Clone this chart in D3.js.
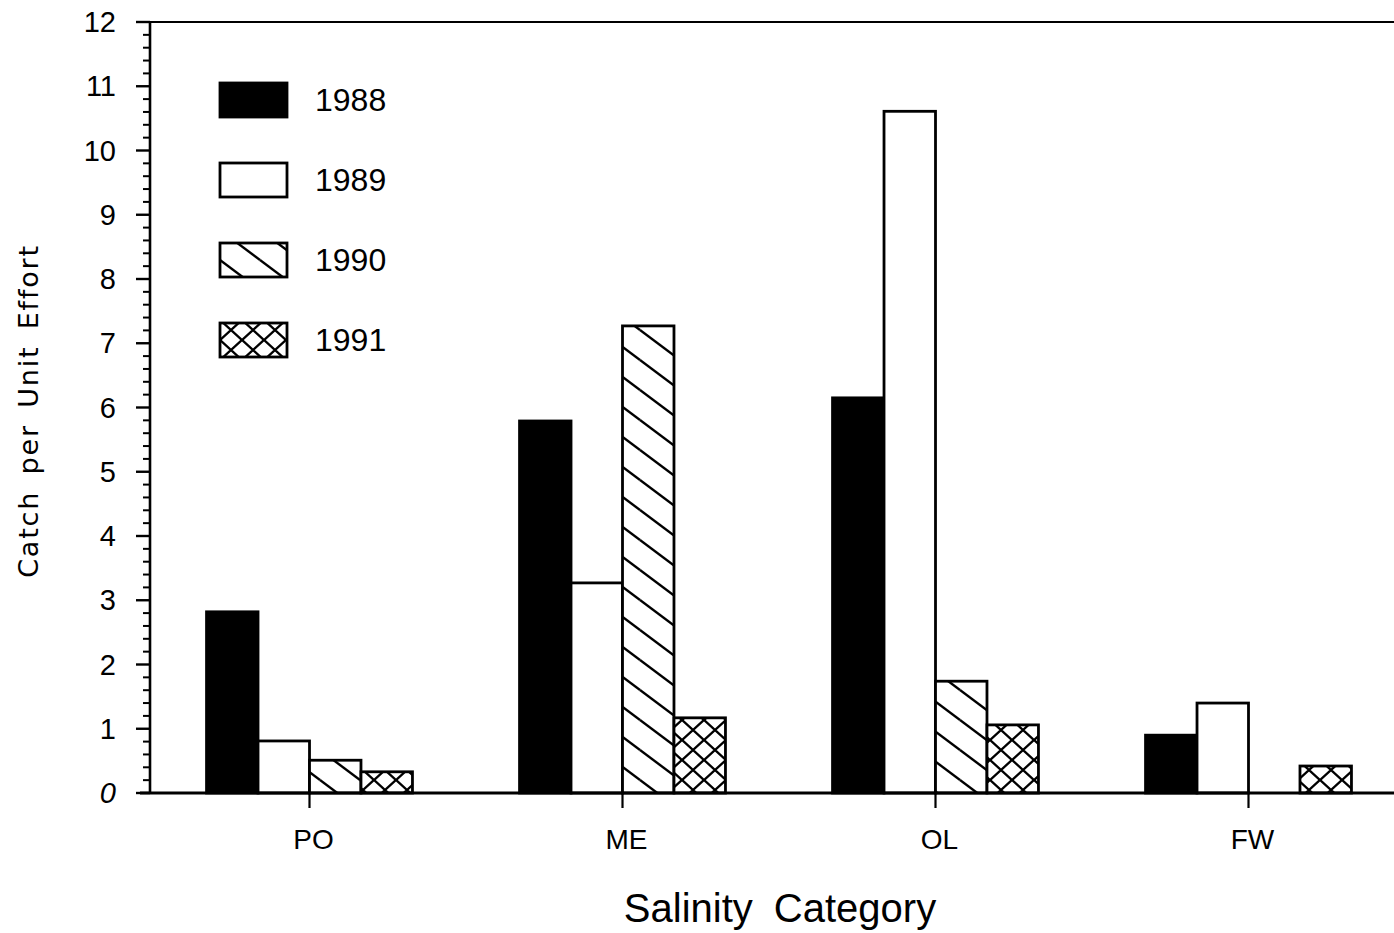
<!DOCTYPE html>
<html>
<head>
<meta charset="utf-8">
<script src="https://cdn.jsdelivr.net/npm/d3@7"></script>
<style>
  body { margin: 0; background: #fff; }
  text { font-family: "Liberation Sans", Arial, sans-serif; fill: #000; }
</style>
</head>
<body>
<svg id="chart" width="1394" height="933"></svg>
<script>
// data
const categories = ["PO", "ME", "OL", "FW"];
const years = ["1988", "1989", "1990", "1991"];
const cpue1988 = [2.82, 5.79, 6.15, 0.90];
const cpue1989 = [0.81, 3.27, 10.61, 1.40];
const cpue1990 = [0.51, 7.27, 1.74, 0];
const cpue1991 = [0.33, 1.17, 1.06, 0.42];
const yTicks = [0, 1, 2, 3, 4, 5, 6, 7, 8, 9, 10, 11, 12];

const series = [cpue1988, cpue1989, cpue1990, cpue1991];
const rows = [];
categories.forEach((c, i) => {
  years.forEach((yr, j) => rows.push({ cat: c, year: yr, value: series[j][i] }));
});

const svg = d3.select("#chart");
const axisX = 150, plotTop = 22, base = 793;

const y = d3.scaleLinear().domain([0, 12]).range([base, plotTop]);
const x0 = d3.scaleBand().domain(categories).range([153, 1405]);
const x1 = d3.scaleBand().domain(years).range([0, x0.bandwidth()]).paddingOuter(1.04);

// patterns
const defs = svg.append("defs");
const diag = defs.append("pattern")
  .attr("id", "diag").attr("patternUnits", "userSpaceOnUse")
  .attr("width", 40).attr("height", 30);
diag.append("rect").attr("width", 40).attr("height", 30).attr("fill", "#fff");
// "\" direction lines, one period 40 wide / 30 tall
[[-40, -30], [0, 0], [40, 30], [-40, 0], [0, -30], [40, 0], [0, 30], [-40, 30], [40, -30]].forEach(([dx, dy]) => {
  diag.append("line")
    .attr("x1", dx).attr("y1", dy).attr("x2", dx + 40).attr("y2", dy + 30)
    .attr("stroke", "#000").attr("stroke-width", 2.4);
});

const cross = defs.append("pattern")
  .attr("id", "cross").attr("patternUnits", "userSpaceOnUse")
  .attr("width", 22).attr("height", 20);
cross.append("rect").attr("width", 22).attr("height", 20).attr("fill", "#fff");
cross.append("path")
  .attr("d", "M0,0L22,20M22,0L0,20M-11,10L0,20M-11,10L0,0M22,0L33,10M22,20L33,10")
  .attr("stroke", "#000").attr("stroke-width", 2.4).attr("fill", "none");

const fills = { "1988": "#000", "1989": "#fff", "1990": "url(#diag)", "1991": "url(#cross)" };

// top frame line
svg.append("line")
  .attr("x1", axisX).attr("x2", 1394).attr("y1", plotTop).attr("y2", plotTop)
  .attr("stroke", "#000").attr("stroke-width", 2.2);

// bars
svg.append("g").selectAll("rect")
  .data(rows.filter(d => d.value > 0))
  .join("rect")
  .attr("x", d => x0(d.cat) + x1(d.year))
  .attr("width", x1.bandwidth())
  .attr("y", d => y(d.value))
  .attr("height", d => y(0) - y(d.value))
  .attr("fill", d => fills[d.year])
  .attr("stroke", "#000")
  .attr("stroke-width", 2.8);

// baseline
svg.append("line")
  .attr("x1", 140).attr("x2", 1394).attr("y1", base).attr("y2", base)
  .attr("stroke", "#000").attr("stroke-width", 2.8);

// y axis with major and minor ticks
const yAxisG = svg.append("g").attr("transform", `translate(${axisX},0)`);
yAxisG.append("line").attr("y1", plotTop).attr("y2", base).attr("stroke", "#000").attr("stroke-width", 2.6);
const minor = d3.range(0, 12.001, 0.2).filter(v => Math.abs(v - Math.round(v)) > 0.01);
yAxisG.selectAll(".minor").data(minor).join("line")
  .attr("class", "minor")
  .attr("x1", -7).attr("x2", 0)
  .attr("y1", d => y(d)).attr("y2", d => y(d))
  .attr("stroke", "#000").attr("stroke-width", 2);
yAxisG.selectAll(".major").data(yTicks).join("line")
  .attr("class", "major")
  .attr("x1", -14).attr("x2", 0)
  .attr("y1", d => y(d)).attr("y2", d => y(d))
  .attr("stroke", "#000").attr("stroke-width", 2.4);
yAxisG.selectAll("text").data(yTicks).join("text")
  .attr("x", -34).attr("y", d => y(d) + 10)
  .attr("text-anchor", "end")
  .attr("font-size", 29)
  .attr("font-style", d => d === 0 ? "italic" : "normal")
  .text(d => d);

// category ticks and labels
const xg = svg.append("g");
xg.selectAll("line").data(categories).join("line")
  .attr("x1", d => x0(d) + x0.bandwidth() / 2).attr("x2", d => x0(d) + x0.bandwidth() / 2)
  .attr("y1", base).attr("y2", base + 15)
  .attr("stroke", "#000").attr("stroke-width", 2.2);
xg.selectAll("text").data(categories).join("text")
  .attr("x", d => x0(d) + x0.bandwidth() / 2 + 4)
  .attr("y", 849)
  .attr("text-anchor", "middle")
  .attr("font-size", 28)
  .text(d => d);

// axis titles
svg.append("text")
  .attr("x", 780).attr("y", 922)
  .attr("text-anchor", "middle")
  .attr("font-size", 40)
  .attr("word-spacing", 10)
  .text("Salinity Category");

svg.append("text")
  .attr("transform", "translate(38,411) rotate(-90)")
  .attr("text-anchor", "middle")
  .style("font-family", "'DejaVu Sans', sans-serif")
  .attr("font-size", 27)
  .attr("letter-spacing", 1.8)
  .attr("word-spacing", 6)
  .text("Catch per Unit Effort");

// legend
const legendY = d3.scalePoint().domain(years).range([100, 340]);
const lg = svg.append("g").selectAll("g").data(years).join("g")
  .attr("transform", d => `translate(220,${legendY(d)})`);
lg.append("rect")
  .attr("x", 0).attr("y", -17).attr("width", 67).attr("height", 34)
  .attr("fill", d => fills[d]).attr("stroke", "#000").attr("stroke-width", 2.8);
lg.append("text")
  .attr("x", 95).attr("y", 11)
  .attr("font-size", 32)
  .text(d => d);
</script>
</body>
</html>
